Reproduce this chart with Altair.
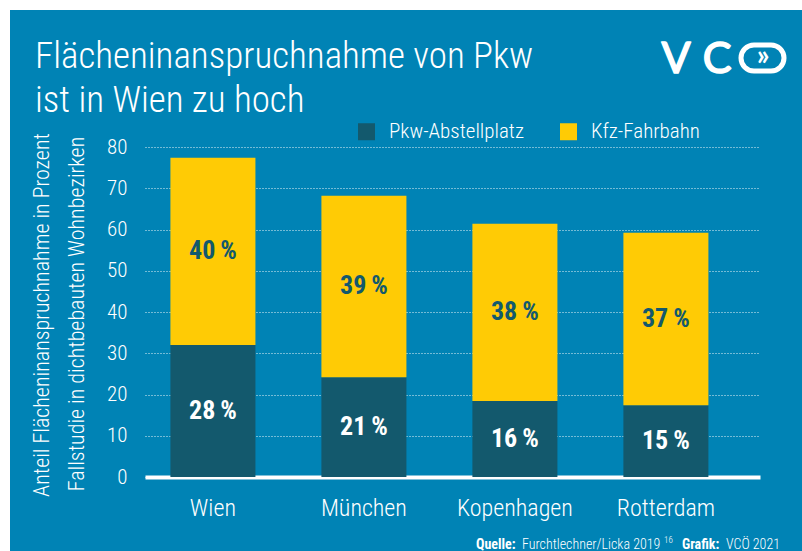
import altair as alt
import pandas as pd

# ---- data ----
cities = ["Wien", "München", "Kopenhagen", "Rotterdam"]
series = ["Pkw-Abstellplatz", "Kfz-Fahrbahn"]
parking = [32.0, 24.2, 18.4, 17.4]      # bar height of dark segment
roadway = [45.4, 44.0, 43.0, 41.8]      # bar height of yellow segment
parking_pct = [28, 21, 16, 15]          # printed labels
roadway_pct = [40, 39, 38, 37]
y_ticks = [0, 10, 20, 30, 40, 50, 60, 70, 80]

BLUE = "#0083b5"
DARK = "#13596d"
YELLOW = "#ffcb05"
FONT = "Roboto Condensed"
LIGHT = 300

rows = []
for i, c in enumerate(cities):
    rows.append(dict(city=c, series=series[0], value=parking[i], order=0,
                     mid=parking[i] / 2, label=f"{parking_pct[i]}\u2009%"))
    rows.append(dict(city=c, series=series[1], value=roadway[i], order=1,
                     mid=parking[i] + roadway[i] / 2, label=f"{roadway_pct[i]}\u2009%"))
df = pd.DataFrame(rows)

W, H = 615, 330
L, T = 145, 147
TOTAL_W, TOTAL_H = 802, 551

x_enc = alt.X("city:N", sort=cities,
              scale=alt.Scale(paddingInner=0.437, paddingOuter=0.255, align=0.33),
              axis=alt.Axis(title=None, labelAngle=0, labelFont=FONT, labelFontSize=24,
                            labelFontWeight=LIGHT,
                            labelColor="white", labelPadding=19, ticks=False,
                            domainColor="white", domainWidth=4, grid=False))
y_scale = alt.Scale(domain=[0, 80], nice=False)
y_axis = alt.Axis(title=None, values=y_ticks, labelFont=FONT, labelFontSize=21,
                  labelFontWeight=LIGHT,
                  labelColor="white", labelPadding=18, ticks=False, domain=False,
                  grid=True, gridColor="white", gridDash=[1, 2], gridWidth=1,
                  gridOpacity=0.9)

bars = alt.Chart(df).mark_bar().encode(
    x=x_enc,
    y=alt.Y("value:Q", stack="zero", scale=y_scale, axis=y_axis),
    color=alt.Color("series:N", sort=series,
                    scale=alt.Scale(domain=series, range=[DARK, YELLOW]),
                    legend=alt.Legend(title=None, orient="none", legendX=211, legendY=-26,
                                      direction="horizontal", symbolType="square",
                                      symbolSize=289, symbolStrokeWidth=0, symbolOpacity=1,
                                      labelFont=FONT, labelFontSize=21, labelFontWeight=LIGHT,
                                      labelColor="white", labelLimit=0,
                                      labelOffset=12, columnPadding=34, padding=0)),
    order=alt.Order("order:Q"),
)

def seg_labels(name, color):
    return alt.Chart(df).transform_filter(alt.datum.series == name).mark_text(
        font=FONT, fontSize=26, fontWeight="bold", color=color, baseline="middle"
    ).encode(
        x=x_enc,
        y=alt.Y("mid:Q", scale=y_scale, axis=y_axis),
        text="label:N",
    )

lab_dark = seg_labels(series[0], "white")
lab_yellow = seg_labels(series[1], DARK)

one = pd.DataFrame({"k": [0]})

def txt(s, x, y, size, weight=LIGHT, align="left", baseline="alphabetic",
        angle=0, color="white", font=FONT, **kw):
    return alt.Chart(pd.DataFrame({"t": [s]})).mark_text(
        font=font, fontSize=size, fontWeight=weight, align=align,
        baseline=baseline, angle=angle, color=color, **kw
    ).encode(text="t:N", x=alt.value(x - L), y=alt.value(y - T))

def box(x1, y1, x2, y2, **kw):
    return alt.Chart(one).mark_rect(**kw).encode(
        x=alt.value(x1 - L), x2=alt.value(x2 - L),
        y=alt.value(y1 - T), y2=alt.value(y2 - T))

# white margins of the original graphic
white_top = box(0, 0, TOTAL_W, 10, color="white")
white_left = box(0, 0, 10, TOTAL_H, color="white")

title1 = txt("Flächeninanspruchnahme von Pkw", 35, 68, 37)
title2 = txt("ist in Wien zu hoch", 35, 112, 37)

ytitle1 = txt("Anteil Flächeninanspruchnahme in Prozent", 42, 315, 22,
              align="center", baseline="middle", angle=270)
ytitle2 = txt("Fallstudie in dichtbebauten Wohnbezirken", 77, 314, 22,
              align="center", baseline="middle", angle=270)

# logo
logo_v = txt("V", 676, 73, 43, align="center", font="Lato", weight="normal",
             stroke="white", strokeWidth=1.6, strokeJoin="round")
logo_c = txt("C", 717, 73, 43, align="center", font="Lato", weight="normal",
             stroke="white", strokeWidth=1.6, strokeJoin="round")
logo_box = box(741, 45, 784, 71, fillOpacity=0, stroke="white", strokeWidth=5,
               cornerRadius=13)
logo_arrow = txt("»", 763, 57, 28, weight="bold", align="center", baseline="middle",
                 font="Lato")

# source line
src1 = txt("Quelle:", 476, 549, 14, weight="bold")
src2 = txt("Furchtlechner/Licka 2019", 522, 549, 14)
src3 = txt("16", 664, 543, 9)
src4 = txt("Grafik:", 682, 549, 14, weight="bold")
src5 = txt("VCÖ 2021", 726, 549, 14)

chart = alt.layer(
    bars, lab_dark, lab_yellow,
    white_top, white_left,
    title1, title2, ytitle1, ytitle2,
    logo_v, logo_c, logo_box, logo_arrow,
    src1, src2, src3, src4, src5,
).properties(
    width=W, height=H, background=BLUE,
    padding={"left": L, "top": T, "right": TOTAL_W - L - W, "bottom": TOTAL_H - T - H},
    autosize=alt.AutoSizeParams(type="none"),
).configure_view(stroke=None)

chart.save("out.html", embed_options={"renderer": "svg", "actions": False})
